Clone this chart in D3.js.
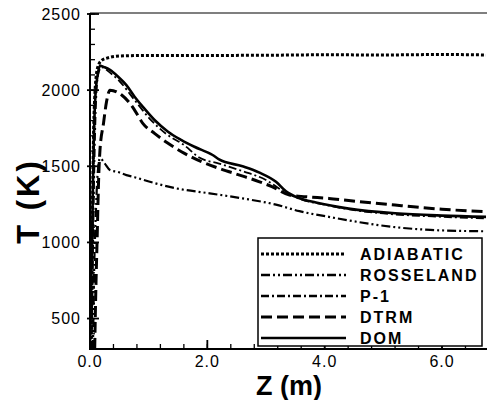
<!DOCTYPE html>
<html>
<head>
<meta charset="utf-8">
<script src="https://cdn.jsdelivr.net/npm/d3@7/dist/d3.min.js"></script>
<style>
  body { margin: 0; background: #fff; }
  svg { display: block; font-family: Arial, "Liberation Sans", sans-serif; }
</style>
</head>
<body>
<div id="chart"></div>
<script>
// data: z in metres, T in kelvin
var adiabatic = [[0.02,300],[0.03,700],[0.04,1100],[0.06,1700],[0.08,1950],[0.1,2070],[0.14,2160],[0.2,2195],[0.3,2212],[0.5,2224],[1.0,2228],[2.0,2228],[3.0,2229],[4.0,2232],[5.0,2231],[6.0,2234],[6.75,2231]];
var rosseland = [[0.05,300],[0.07,800],[0.1,1200],[0.13,1450],[0.17,1552],[0.25,1519],[0.34,1475],[0.48,1462],[0.62,1442],[0.76,1428],[1.02,1398],[1.47,1355],[2.04,1322],[2.6,1289],[3.17,1248],[3.57,1205],[4.07,1168],[4.4,1145],[5.2,1100],[5.8,1082],[6.75,1073]];
var p1 = [[0.03,300],[0.05,900],[0.08,1600],[0.11,1980],[0.15,2120],[0.2,2150],[0.34,2115],[0.5,2060],[0.76,1935],[1.0,1820],[1.3,1712],[1.6,1640],[1.87,1556],[2.2,1518],[2.6,1468],[3.0,1410],[3.3,1335],[3.6,1282],[4.0,1248],[4.5,1212],[5.0,1190],[6.0,1168],[6.75,1158]];
var dtrm = [[0.08,300],[0.1,700],[0.12,1000],[0.15,1450],[0.17,1606],[0.23,1782],[0.28,1920],[0.34,2000],[0.54,1968],[0.68,1913],[0.76,1869],[0.9,1782],[1.1,1716],[1.33,1651],[1.61,1585],[1.9,1530],[2.2,1486],[2.55,1442],[2.89,1398],[3.1,1366],[3.4,1311],[3.68,1300],[4.07,1289],[4.41,1275],[5.2,1245],[6.0,1218],[6.75,1201]];
var dom = [[0.0,300],[0.03,900],[0.06,1600],[0.09,1950],[0.13,2100],[0.17,2160],[0.25,2150],[0.34,2133],[0.48,2088],[0.62,2033],[0.76,1957],[0.9,1891],[1.1,1804],[1.33,1727],[1.56,1672],[1.78,1628],[2.09,1574],[2.2,1545],[2.6,1500],[2.89,1458],[3.17,1398],[3.34,1335],[3.57,1290],[3.85,1262],[4.41,1222],[5.2,1191],[6.0,1176],[6.75,1168]];

var seriesNames = ["ADIABATIC","ROSSELAND","P-1","DTRM","DOM"];
var seriesData = [adiabatic, rosseland, p1, dtrm, dom];

var xMajor = [0,2,4,6];
var xMinor = d3.range(0, 6.8, 0.4);
var yMajor = [500,1000,1500,2000,2500];
var yMinor = d3.range(300, 2501, 100);

var width = 487, height = 400;

var styles = [
  {w: 3, dash: "3,2"},
  {w: 2.2, dash: "9,3,2,3,2,3"},
  {w: 1.8, dash: "8,3,2,3"},
  {w: 3, dash: "11,5"},
  {w: 2.6, dash: null}
];

var x = d3.scaleLinear().domain([0, 6.75]).range([90, 486]);
var y = d3.scaleLinear().domain([300, 2500]).range([349, 14]);

var svg = d3.select('#chart')
  .append('svg')
    .attr('width', width)
    .attr('height', height);

svg.append('defs').append('clipPath').attr('id', 'clip')
  .append('rect')
    .attr('x', x(0)).attr('y', 13)
    .attr('width', width - x(0)).attr('height', y(300) - 13);

//curves
var line = d3.line()
  .x(function(d) { return x(d[0]); })
  .y(function(d) { return y(d[1]); })
  .curve(d3.curveMonotoneX);

svg.append('g').attr('clip-path', 'url(#clip)')
  .selectAll('path')
  .data(seriesData).enter()
  .append('path')
    .attr('d', line)
    .attr('fill', 'none')
    .attr('stroke', '#000')
    .attr('stroke-width', function(d,i) { return styles[i].w; })
    .attr('stroke-dasharray', function(d,i) { return styles[i].dash; });

//frame
svg.append('line')
  .attr('x1', x(0)).attr('x2', width)
  .attr('y1', 13).attr('y2', 13)
  .attr('stroke', '#555').attr('stroke-width', 1.5);

//axes with inward ticks
var xAxis = svg.append('g').attr('transform', 'translate(0,' + y(300) + ')');
xAxis.append('line')
  .attr('x1', x(0) - 1).attr('x2', width)
  .attr('stroke', '#000').attr('stroke-width', 2);
xAxis.selectAll('.xminor')
  .data(xMinor).enter()
  .append('line')
    .attr('x1', function(d) { return x(d); })
    .attr('x2', function(d) { return x(d); })
    .attr('y1', 0).attr('y2', -5)
    .attr('stroke', '#000').attr('stroke-width', 1.3);
xAxis.selectAll('.xmajor')
  .data(xMajor).enter()
  .append('line')
    .attr('x1', function(d) { return x(d); })
    .attr('x2', function(d) { return x(d); })
    .attr('y1', 0).attr('y2', -9)
    .attr('stroke', '#000').attr('stroke-width', 1.8);
xAxis.selectAll('text')
  .data(xMajor).enter()
  .append('text')
    .attr('x', function(d) { return x(d); })
    .attr('y', 18)
    .attr('text-anchor', 'middle')
    .attr('font-size', 16)
    .attr('letter-spacing', 1)
    .text(function(d) { return d3.format('.1f')(d); });

var yAxis = svg.append('g').attr('transform', 'translate(' + x(0) + ',0)');
yAxis.append('line')
  .attr('y1', 13).attr('y2', y(300) + 1)
  .attr('stroke', '#000').attr('stroke-width', 2);
yAxis.selectAll('.yminor')
  .data(yMinor).enter()
  .append('line')
    .attr('y1', function(d) { return y(d); })
    .attr('y2', function(d) { return y(d); })
    .attr('x1', 0).attr('x2', 5)
    .attr('stroke', '#000').attr('stroke-width', 1.3);
yAxis.selectAll('.ymajor')
  .data(yMajor).enter()
  .append('line')
    .attr('y1', function(d) { return y(d); })
    .attr('y2', function(d) { return y(d); })
    .attr('x1', -3).attr('x2', 9)
    .attr('stroke', '#000').attr('stroke-width', 1.8);
yAxis.selectAll('text')
  .data(yMajor).enter()
  .append('text')
    .attr('x', -9)
    .attr('y', function(d) { return y(d); })
    .attr('dy', '0.36em')
    .attr('text-anchor', 'end')
    .attr('font-size', 16)
    .attr('letter-spacing', 1)
    .text(function(d) { return d; });

//axis titles
svg.append('text')
  .attr('x', 289).attr('y', 395)
  .attr('text-anchor', 'middle')
  .attr('font-size', 27)
  .attr('font-weight', 'bold')
  .text('Z (m)');

svg.append('text')
  .attr('transform', 'translate(39,201) rotate(-90)')
  .attr('text-anchor', 'middle')
  .attr('font-size', 31)
  .attr('font-weight', 'bold')
  .attr('letter-spacing', 3)
  .text('T (K)');

//legend
var legend = svg.append('g');
legend.append('rect')
  .attr('x', 258).attr('y', 238)
  .attr('width', 224).attr('height', 108)
  .attr('fill', '#fff')
  .attr('stroke', '#000').attr('stroke-width', 1.5);

var entryY = d3.scaleLinear().domain([0, 4]).range([254, 338]);

legend.selectAll('.legend_line')
  .data(seriesNames).enter()
  .append('line')
    .attr('x1', 261).attr('x2', 346)
    .attr('y1', function(d,i) { return entryY(i); })
    .attr('y2', function(d,i) { return entryY(i); })
    .attr('stroke', '#000')
    .attr('stroke-width', function(d,i) { return Math.max(styles[i].w, 2.6); })
    .attr('stroke-dasharray', function(d,i) { return styles[i].dash; });

legend.selectAll('.legend_text')
  .data(seriesNames).enter()
  .append('text')
    .attr('x', 360)
    .attr('y', function(d,i) { return entryY(i); })
    .attr('dy', '0.36em')
    .attr('font-size', 16)
    .attr('font-weight', 'bold')
    .attr('letter-spacing', 2)
    .text(function(d) { return d; });
</script>
</body>
</html>
